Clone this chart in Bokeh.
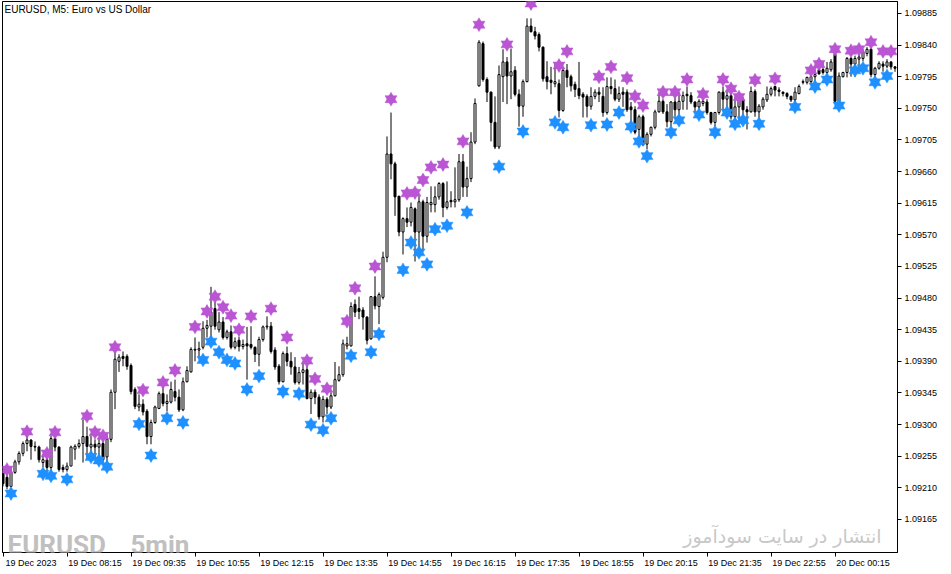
from bokeh.plotting import figure
from bokeh.models import Range1d, FixedTicker, Label, LinearAxis, PrintfTickFormatter
from bokeh.embed import file_html
from bokeh.resources import INLINE

# EURUSD M5, 19 Dec 2023 06:55 .. 20 Dec 01:30 (bar index 0..223)
opens = [
    1.09233, 1.09225, 1.09212, 1.09232, 1.09247, 1.09259, 1.09273, 1.09278, 1.09269, 1.09268,
    1.09246, 1.09250, 1.09239, 1.09280, 1.09268, 1.09239, 1.09236, 1.09241, 1.09265, 1.09269,
    1.09273, 1.09283, 1.09268, 1.09272, 1.09268, 1.09273, 1.09254, 1.09279, 1.09346, 1.09390,
    1.09397, 1.09397, 1.09384, 1.09350, 1.09325, 1.09329, 1.09319, 1.09283, 1.09303, 1.09323,
    1.09344, 1.09330, 1.09332, 1.09347, 1.09339, 1.09321, 1.09361, 1.09375, 1.09406, 1.09406,
    1.09410, 1.09437, 1.09440, 1.09465, 1.09435, 1.09446, 1.09424, 1.09432, 1.09410, 1.09420,
    1.09411, 1.09415, 1.09414, 1.09410, 1.09400, 1.09421, 1.09439, 1.09440, 1.09406, 1.09383,
    1.09361, 1.09401, 1.09390, 1.09382, 1.09360, 1.09374, 1.09378, 1.09337, 1.09346, 1.09339,
    1.09311, 1.09336, 1.09325, 1.09341, 1.09363, 1.09371, 1.09412, 1.09412, 1.09471, 1.09465,
    1.09463, 1.09453, 1.09422, 1.09482, 1.09468, 1.09481, 1.09538, 1.09685, 1.09671, 1.09625,
    1.09574, 1.09593, 1.09588, 1.09607, 1.09574, 1.09617, 1.09568, 1.09613, 1.09613, 1.09624,
    1.09643, 1.09609, 1.09619, 1.09617, 1.09620, 1.09674, 1.09638, 1.09650, 1.09702, 1.09782,
    1.09842, 1.09791, 1.09773, 1.09730, 1.09695, 1.09795, 1.09816, 1.09796, 1.09804, 1.09770,
    1.09753, 1.09788, 1.09867, 1.09859, 1.09855, 1.09837, 1.09795, 1.09790, 1.09785, 1.09785,
    1.09747, 1.09804, 1.09795, 1.09784, 1.09778, 1.09770, 1.09767, 1.09753, 1.09767, 1.09773,
    1.09767, 1.09744, 1.09781, 1.09778, 1.09763, 1.09773, 1.09773, 1.09752, 1.09748, 1.09720,
    1.09738, 1.09699, 1.09713, 1.09723, 1.09745, 1.09760, 1.09745, 1.09731, 1.09759, 1.09748,
    1.09760, 1.09770, 1.09768, 1.09759, 1.09752, 1.09757, 1.09759, 1.09744, 1.09730, 1.09744,
    1.09773, 1.09763, 1.09768, 1.09738, 1.09752, 1.09763, 1.09748, 1.09745, 1.09774, 1.09745,
    1.09752, 1.09762, 1.09770, 1.09781, 1.09776, 1.09773, 1.09771, 1.09767, 1.09762, 1.09771,
    1.09787, 1.09787, 1.09788, 1.09795, 1.09805, 1.09805, 1.09801, 1.09805, 1.09827, 1.09760,
    1.09795, 1.09801, 1.09821, 1.09813, 1.09820, 1.09821, 1.09828, 1.09834, 1.09798, 1.09807,
    1.09813, 1.09810, 1.09816, 1.09809,
]
highs = [
    1.09236, 1.09236, 1.09238, 1.09250, 1.09262, 1.09276, 1.09283, 1.09279, 1.09276, 1.09270,
    1.09258, 1.09256, 1.09284, 1.09284, 1.09269, 1.09243, 1.09246, 1.09270, 1.09272, 1.09279,
    1.09307, 1.09297, 1.09284, 1.09279, 1.09282, 1.09279, 1.09286, 1.09350, 1.09407, 1.09400,
    1.09404, 1.09400, 1.09387, 1.09353, 1.09343, 1.09336, 1.09322, 1.09307, 1.09327, 1.09347,
    1.09357, 1.09343, 1.09361, 1.09364, 1.09350, 1.09367, 1.09383, 1.09410, 1.09424, 1.09418,
    1.09447, 1.09449, 1.09496, 1.09483, 1.09460, 1.09453, 1.09435, 1.09441, 1.09424, 1.09425,
    1.09421, 1.09439, 1.09440, 1.09411, 1.09425, 1.09441, 1.09454, 1.09446, 1.09410, 1.09386,
    1.09404, 1.09411, 1.09403, 1.09396, 1.09382, 1.09390, 1.09386, 1.09350, 1.09350, 1.09343,
    1.09341, 1.09339, 1.09346, 1.09389, 1.09383, 1.09421, 1.09425, 1.09474, 1.09478, 1.09482,
    1.09467, 1.09454, 1.09483, 1.09511, 1.09488, 1.09546, 1.09710, 1.09744, 1.09674, 1.09625,
    1.09595, 1.09609, 1.09616, 1.09609, 1.09625, 1.09620, 1.09624, 1.09639, 1.09639, 1.09645,
    1.09645, 1.09646, 1.09632, 1.09666, 1.09685, 1.09685, 1.09667, 1.09716, 1.09764, 1.09847,
    1.09845, 1.09794, 1.09774, 1.09767, 1.09811, 1.09834, 1.09823, 1.09835, 1.09810, 1.09777,
    1.09791, 1.09878, 1.09878, 1.09866, 1.09858, 1.09838, 1.09817, 1.09809, 1.09813, 1.09791,
    1.09809, 1.09813, 1.09798, 1.09788, 1.09816, 1.09773, 1.09770, 1.09780, 1.09777, 1.09780,
    1.09780, 1.09794, 1.09794, 1.09791, 1.09781, 1.09780, 1.09777, 1.09759, 1.09753, 1.09741,
    1.09741, 1.09716, 1.09724, 1.09748, 1.09773, 1.09763, 1.09756, 1.09760, 1.09766, 1.09773,
    1.09774, 1.09781, 1.09773, 1.09760, 1.09763, 1.09766, 1.09763, 1.09745, 1.09745, 1.09774,
    1.09781, 1.09774, 1.09773, 1.09767, 1.09767, 1.09766, 1.09753, 1.09781, 1.09777, 1.09756,
    1.09766, 1.09781, 1.09781, 1.09782, 1.09780, 1.09774, 1.09773, 1.09768, 1.09780, 1.09784,
    1.09791, 1.09795, 1.09798, 1.09805, 1.09816, 1.09817, 1.09816, 1.09820, 1.09831, 1.09801,
    1.09802, 1.09823, 1.09823, 1.09825, 1.09831, 1.09834, 1.09837, 1.09837, 1.09809, 1.09817,
    1.09817, 1.09820, 1.09817, 1.09810,
]
lows = [
    1.09212, 1.09208, 1.09211, 1.09230, 1.09243, 1.09255, 1.09262, 1.09250, 1.09262, 1.09246,
    1.09239, 1.09233, 1.09233, 1.09262, 1.09233, 1.09232, 1.09233, 1.09241, 1.09250, 1.09266,
    1.09246, 1.09250, 1.09254, 1.09250, 1.09250, 1.09247, 1.09236, 1.09275, 1.09322, 1.09375,
    1.09383, 1.09378, 1.09343, 1.09322, 1.09319, 1.09313, 1.09272, 1.09272, 1.09301, 1.09322,
    1.09326, 1.09319, 1.09330, 1.09333, 1.09318, 1.09319, 1.09360, 1.09374, 1.09390, 1.09396,
    1.09407, 1.09424, 1.09421, 1.09435, 1.09431, 1.09421, 1.09421, 1.09407, 1.09407, 1.09404,
    1.09407, 1.09364, 1.09407, 1.09389, 1.09383, 1.09418, 1.09435, 1.09401, 1.09378, 1.09357,
    1.09360, 1.09383, 1.09371, 1.09357, 1.09357, 1.09357, 1.09336, 1.09315, 1.09329, 1.09307,
    1.09303, 1.09315, 1.09322, 1.09340, 1.09361, 1.09368, 1.09407, 1.09411, 1.09453, 1.09450,
    1.09435, 1.09414, 1.09421, 1.09464, 1.09443, 1.09478, 1.09531, 1.09649, 1.09597, 1.09568,
    1.09542, 1.09581, 1.09582, 1.09532, 1.09549, 1.09549, 1.09559, 1.09602, 1.09602, 1.09620,
    1.09595, 1.09606, 1.09609, 1.09609, 1.09617, 1.09624, 1.09624, 1.09645, 1.09699, 1.09781,
    1.09788, 1.09759, 1.09703, 1.09692, 1.09692, 1.09759, 1.09756, 1.09763, 1.09767, 1.09724,
    1.09738, 1.09787, 1.09858, 1.09848, 1.09831, 1.09788, 1.09777, 1.09770, 1.09780, 1.09737,
    1.09745, 1.09780, 1.09774, 1.09766, 1.09763, 1.09737, 1.09737, 1.09748, 1.09763, 1.09759,
    1.09738, 1.09741, 1.09770, 1.09760, 1.09759, 1.09752, 1.09745, 1.09724, 1.09713, 1.09709,
    1.09696, 1.09692, 1.09710, 1.09720, 1.09744, 1.09742, 1.09723, 1.09724, 1.09738, 1.09741,
    1.09748, 1.09748, 1.09756, 1.09744, 1.09745, 1.09753, 1.09741, 1.09727, 1.09724, 1.09741,
    1.09748, 1.09738, 1.09734, 1.09731, 1.09731, 1.09737, 1.09720, 1.09744, 1.09738, 1.09734,
    1.09748, 1.09759, 1.09767, 1.09767, 1.09767, 1.09767, 1.09763, 1.09759, 1.09756, 1.09770,
    1.09784, 1.09784, 1.09784, 1.09788, 1.09798, 1.09798, 1.09795, 1.09802, 1.09759, 1.09759,
    1.09794, 1.09794, 1.09795, 1.09795, 1.09809, 1.09817, 1.09824, 1.09794, 1.09791, 1.09805,
    1.09802, 1.09807, 1.09805, 1.09802,
]
closes = [
    1.09216, 1.09212, 1.09232, 1.09247, 1.09259, 1.09273, 1.09278, 1.09269, 1.09268, 1.09250,
    1.09250, 1.09239, 1.09280, 1.09268, 1.09236, 1.09236, 1.09241, 1.09268, 1.09269, 1.09273,
    1.09283, 1.09269, 1.09272, 1.09268, 1.09273, 1.09250, 1.09279, 1.09346, 1.09393, 1.09396,
    1.09394, 1.09383, 1.09347, 1.09326, 1.09329, 1.09318, 1.09283, 1.09303, 1.09325, 1.09344,
    1.09330, 1.09333, 1.09350, 1.09339, 1.09321, 1.09361, 1.09377, 1.09407, 1.09407, 1.09408,
    1.09437, 1.09441, 1.09460, 1.09440, 1.09446, 1.09424, 1.09432, 1.09410, 1.09418, 1.09411,
    1.09414, 1.09412, 1.09410, 1.09400, 1.09421, 1.09439, 1.09440, 1.09404, 1.09382, 1.09361,
    1.09401, 1.09390, 1.09382, 1.09360, 1.09374, 1.09378, 1.09337, 1.09346, 1.09339, 1.09311,
    1.09336, 1.09325, 1.09341, 1.09364, 1.09371, 1.09415, 1.09415, 1.09468, 1.09460, 1.09461,
    1.09453, 1.09420, 1.09482, 1.09469, 1.09485, 1.09538, 1.09685, 1.09671, 1.09624, 1.09574,
    1.09593, 1.09588, 1.09609, 1.09574, 1.09617, 1.09568, 1.09616, 1.09616, 1.09624, 1.09643,
    1.09609, 1.09617, 1.09617, 1.09620, 1.09674, 1.09638, 1.09650, 1.09702, 1.09757, 1.09844,
    1.09791, 1.09773, 1.09730, 1.09695, 1.09798, 1.09816, 1.09796, 1.09802, 1.09770, 1.09753,
    1.09788, 1.09867, 1.09859, 1.09853, 1.09837, 1.09792, 1.09788, 1.09787, 1.09788, 1.09747,
    1.09804, 1.09794, 1.09782, 1.09777, 1.09768, 1.09766, 1.09753, 1.09767, 1.09773, 1.09770,
    1.09744, 1.09781, 1.09778, 1.09763, 1.09771, 1.09770, 1.09748, 1.09748, 1.09716, 1.09738,
    1.09699, 1.09713, 1.09723, 1.09745, 1.09760, 1.09745, 1.09731, 1.09759, 1.09748, 1.09760,
    1.09768, 1.09768, 1.09759, 1.09752, 1.09760, 1.09760, 1.09744, 1.09730, 1.09744, 1.09773,
    1.09763, 1.09768, 1.09738, 1.09752, 1.09763, 1.09748, 1.09745, 1.09774, 1.09745, 1.09753,
    1.09763, 1.09770, 1.09778, 1.09776, 1.09774, 1.09771, 1.09767, 1.09762, 1.09773, 1.09781,
    1.09788, 1.09794, 1.09795, 1.09798, 1.09799, 1.09801, 1.09807, 1.09816, 1.09760, 1.09796,
    1.09801, 1.09821, 1.09813, 1.09821, 1.09823, 1.09830, 1.09834, 1.09798, 1.09807, 1.09814,
    1.09810, 1.09816, 1.09809, 1.09807,
]

# indicator arrows: purple above, blue below
up_bars = [1, 6, 11, 13, 21, 23, 25, 28, 35, 40, 43, 48, 51, 53, 55, 57, 59, 62, 67, 71,
           76, 78, 81, 86, 88, 93, 97, 101, 103, 105, 107, 110, 115, 119, 126, 132, 139, 141, 149, 152,
           156, 158, 160, 165, 168, 171, 175, 180, 182, 184, 188, 193, 202, 204, 208, 212, 214, 217, 220, 222]
up_vals = [1.09236, 1.09290, 1.09259, 1.09289, 1.09312, 1.09289, 1.09284, 1.09410, 1.09349, 1.09360,
           1.09377, 1.09439, 1.09461, 1.09482, 1.09467, 1.09455, 1.09435, 1.09454, 1.09465, 1.09424,
           1.09391, 1.09365, 1.09351, 1.09447, 1.09494, 1.09525, 1.09763, 1.09629, 1.09630, 1.09648,
           1.09666, 1.09670, 1.09703, 1.09869, 1.09841, 1.09899, 1.09811, 1.09831, 1.09795, 1.09809,
           1.09793, 1.09767, 1.09754, 1.09773, 1.09773, 1.09791, 1.09770, 1.09791, 1.09778, 1.09766,
           1.09790, 1.09792, 1.09804, 1.09813, 1.09834, 1.09832, 1.09834, 1.09844, 1.09831, 1.09831]
dn_bars = [2, 10, 12, 16, 22, 24, 26, 34, 37, 41, 45, 50, 52, 54, 56, 58, 61, 64, 70, 74,
           77, 80, 82, 87, 92, 94, 100, 102, 104, 106, 108, 111, 116, 124, 130, 138, 140, 147, 151, 154,
           157, 159, 161, 167, 169, 174, 178, 181, 183, 185, 189, 198, 203, 206, 209, 213, 215, 218, 221]
dn_vals = [1.09202, 1.09230, 1.09227, 1.09222, 1.09254, 1.09249, 1.09240, 1.09301, 1.09256, 1.09309,
           1.09303, 1.09392, 1.09418, 1.09403, 1.09392, 1.09387, 1.09350, 1.09369, 1.09347, 1.09344,
           1.09300, 1.09292, 1.09309, 1.09398, 1.09403, 1.09429, 1.09520, 1.09559, 1.09545, 1.09528,
           1.09578, 1.09583, 1.09602, 1.09667, 1.09717, 1.09730, 1.09723, 1.09726, 1.09727, 1.09744,
           1.09724, 1.09703, 1.09682, 1.09716, 1.09733, 1.09741, 1.09716, 1.09744, 1.09728, 1.09733,
           1.09728, 1.09752, 1.09781, 1.09791, 1.09754, 1.09804, 1.09807, 1.09787, 1.09796]

tick_bars = [0, 16, 32, 48, 64, 80, 96, 112, 128, 144, 160, 176, 192, 208]
time_labels = ["19 Dec 2023", "19 Dec 08:15", "19 Dec 09:35", "19 Dec 10:55", "19 Dec 12:15",
               "19 Dec 13:35", "19 Dec 14:55", "19 Dec 16:15", "19 Dec 17:35", "19 Dec 18:55",
               "19 Dec 20:15", "19 Dec 21:35", "19 Dec 22:55", "20 Dec 00:15"]
price_ticks = [1.09165, 1.09210, 1.09255, 1.09300, 1.09345, 1.09390, 1.09435, 1.09480, 1.09525,
               1.09570, 1.09615, 1.09660, 1.09705, 1.09750, 1.09795, 1.09840, 1.09885]

AXIS_FONT = "Liberation Sans"

p = figure(frame_width=895, frame_height=551,
           x_range=Range1d(-0.125, 223.625), y_range=Range1d(1.09118, 1.09902),
           y_axis_location="right", toolbar_location=None, output_backend="svg",
           min_border_left=2, min_border_top=1, min_border_bottom=0, min_border_right=0)
p.background_fill_color = "white"
p.border_fill_color = "white"
p.outline_line_color = "black"
p.outline_line_width = 1
p.xgrid.visible = False
p.ygrid.visible = False

bars = list(range(len(opens)))
bull = [i for i in bars if closes[i] >= opens[i]]
bear = [i for i in bars if closes[i] < opens[i]]

# wicks
p.segment(x0=bars, y0=lows, x1=bars, y1=highs, line_color="black", line_width=1)

# bodies
p.vbar(x=bull, width=0.5,
       top=[closes[i] for i in bull], bottom=[opens[i] for i in bull],
       fill_color="white", line_color="black", line_width=1)
p.vbar(x=bear, width=0.5,
       top=[opens[i] for i in bear], bottom=[closes[i] for i in bear],
       fill_color="black", line_color="black", line_width=1)

# six pointed stars = two triangles on top of each other
for marker in ("triangle", "inverted_triangle"):
    p.scatter(up_bars, up_vals, marker=marker, size=12,
              fill_color="#BA55D3", line_color="#BA55D3", line_width=0.5)
    p.scatter(dn_bars, dn_vals, marker=marker, size=12,
              fill_color="#1E90FF", line_color="#1E90FF", line_width=0.5)

# time axis: tick marks on the first axis, the texts on a second one
# shifted right so they start just after the tick, like MT5 draws them
xa = p.xaxis[0]
xa.ticker = FixedTicker(ticks=tick_bars)
xa.major_label_overrides = {t: "" for t in tick_bars}
xa.major_label_text_font_size = "1px"
xa.major_label_standoff = 0
xa.major_tick_out = 4
xa.major_tick_in = 0
xa.minor_tick_out = 0
xa.minor_tick_in = 0
xa.axis_line_color = "black"
xa.major_tick_line_color = "black"

label_pos = [t + 7.0 for t in tick_bars]
xl = LinearAxis(ticker=FixedTicker(ticks=label_pos),
                major_label_overrides=dict(zip(label_pos, time_labels)),
                major_tick_out=0, major_tick_in=0, minor_tick_out=0, minor_tick_in=0,
                axis_line_color=None, major_tick_line_color=None, minor_tick_line_color=None,
                major_label_standoff=1, major_label_text_font=AXIS_FONT,
                major_label_text_font_size="9px", major_label_text_color="black")
p.add_layout(xl, "below")

ya = p.yaxis[0]
ya.ticker = FixedTicker(ticks=price_ticks)
ya.formatter = PrintfTickFormatter(format="%.5f")
ya.major_tick_out = 4
ya.major_tick_in = 0
ya.minor_tick_out = 0
ya.minor_tick_in = 0
ya.major_label_standoff = 3
ya.axis_line_color = "black"
ya.major_tick_line_color = "black"
ya.major_label_text_font = AXIS_FONT
ya.major_label_text_font_size = "9px"
ya.major_label_text_color = "black"

# texts
p.add_layout(Label(x=0.375, y=1.09899, text="EURUSD, M5:  Euro vs US Dollar",
                   text_font=AXIS_FONT, text_font_size="10px", text_color="black",
                   text_baseline="top", text_align="left"))
p.add_layout(Label(x=1.125, y=1.09129, text="EURUSD _ 5min",
                   text_font="Roboto", text_font_style="bold",
                   text_font_size="26px", text_color="#C0C0C0",
                   text_baseline="alphabetic", text_align="left"))
p.add_layout(Label(x=219.625, y=1.09141, text="انتشار در سایت سودآموز",
                   text_font="DejaVu Sans", text_font_size="19px", text_color="#C8C8C8",
                   text_baseline="alphabetic", text_align="right"))

open("out.html", "w").write(file_html(p, INLINE))
